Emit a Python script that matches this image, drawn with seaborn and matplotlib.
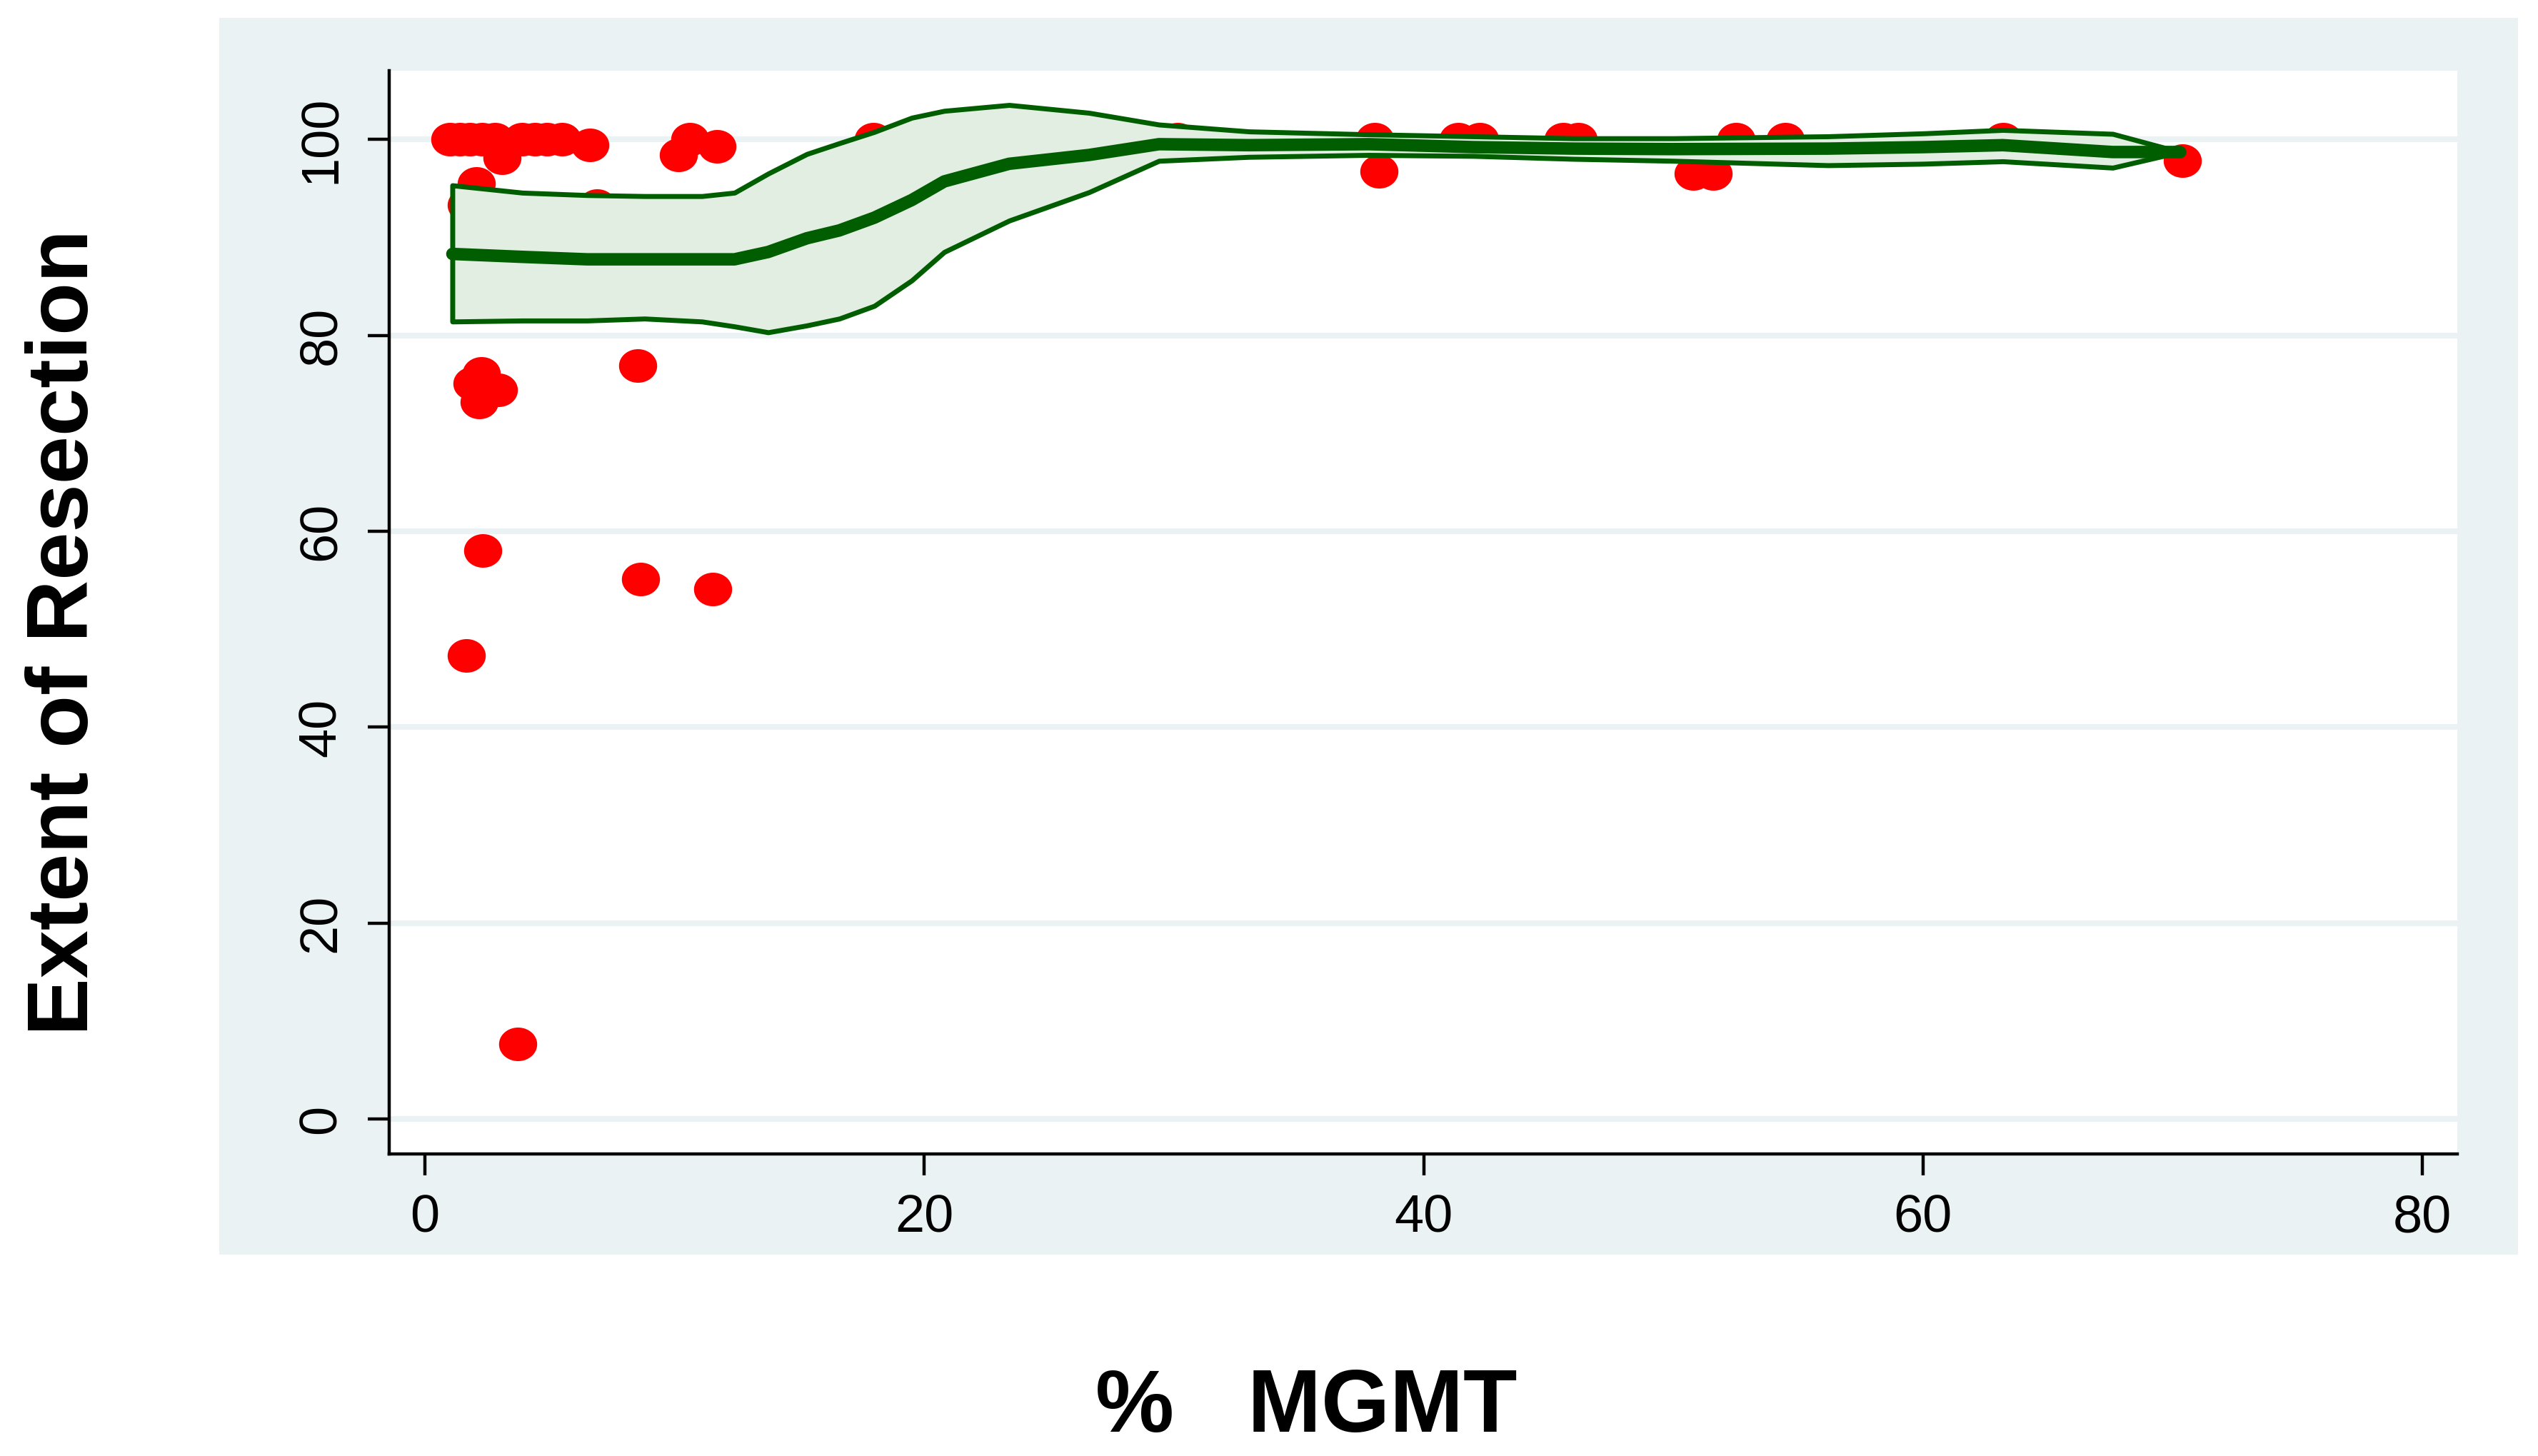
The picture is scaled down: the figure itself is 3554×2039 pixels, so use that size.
import numpy as np
import pandas as pd
import matplotlib
matplotlib.use("Agg")
import matplotlib.pyplot as plt
from matplotlib.patches import Rectangle
import seaborn as sns

# ---- data: scatter points (% MGMT, Extent of Resection) ----
mgmt = [1.0, 1.4, 1.8, 2.3, 2.8, 3.9, 4.4, 4.9, 5.5, 6.6,
        3.1, 2.06, 1.65, 6.9,
        10.15, 10.6, 11.7, 17.95,
        2.27, 1.89, 2.94, 2.16, 8.53,
        2.32, 8.63, 11.54, 1.65, 3.72,
        29.4, 30.15, 38.05, 38.2, 41.4, 42.25, 45.6, 46.2,
        50.8, 51.6, 52.5, 54.5, 63.2, 70.4]
eor = [100, 100, 100, 100, 100, 100, 100, 100, 100, 99.4,
       98.1, 95.5, 93.3, 93.2,
       98.4, 100, 99.3, 100,
       76.1, 75.1, 74.4, 73.2, 76.9,
       58.0, 55.1, 54.1, 47.3, 7.7,
       100, 100, 100, 96.7, 100, 100, 100, 100,
       96.5, 96.5, 100, 100, 100, 97.8]

# ---- data: local polynomial fit and confidence band ----
grid_x = [1.1, 3.9, 6.5, 8.8, 11.1, 12.4, 13.75, 15.3, 16.6, 18.0, 19.5, 20.8,
          23.4, 26.6, 29.4, 33.0, 37.8, 42.0, 46.0, 50.0, 56.2, 60.0, 63.2, 67.6, 70.3]
fit_mid = [88.3, 88.0, 87.75, 87.75, 87.75, 87.75, 88.5, 89.9, 90.7, 92.0, 93.8, 95.7,
           97.5, 98.4, 99.5, 99.4, 99.5, 99.2, 99.05, 99.0, 99.05, 99.2, 99.4, 98.7, 98.7]
ci_upper = [95.3, 94.55, 94.3, 94.2, 94.2, 94.55, 96.5, 98.5, 99.6, 100.75, 102.2, 102.9,
            103.5, 102.7, 101.5, 100.8, 100.5, 100.3, 100.1, 100.1, 100.3, 100.6, 100.95, 100.55, 98.7]
ci_lower = [81.4, 81.5, 81.5, 81.7, 81.4, 80.9, 80.3, 81.0, 81.7, 83.0, 85.6, 88.5,
            91.7, 94.6, 97.8, 98.2, 98.4, 98.3, 98.0, 97.8, 97.35, 97.5, 97.75, 97.1, 98.7]

x_ticks = [0, 20, 40, 60, 80]
y_ticks = [0, 20, 40, 60, 80, 100]
x_label = "%   MGMT"
y_label = "Extent of Resection"

RED = "#FF0000"
GREEN = "#005E00"
BAND = "#E3EEE3"
BG = "#EAF2F3"

sns.set_theme(style="white")
plt.rcParams["font.family"] = ["Liberation Sans", "DejaVu Sans"]

W, H, DPI = 3554, 2039, 200
fig = plt.figure(figsize=(W / DPI, H / DPI), dpi=DPI, facecolor="white")

# outer graph region (light blue-grey), drawn behind the axes
fig.patches.append(Rectangle((307 / W, 1 - 1757 / H), (3526 - 307) / W, (1757 - 25) / H,
                             transform=fig.transFigure, facecolor=BG, edgecolor="none",
                             zorder=-10))

ax = fig.add_axes([545 / W, 1 - 1616 / H, (3441 - 545) / W, (1616 - 99) / H])
ax.set_zorder(1)
ax.set_facecolor("white")

pts = pd.DataFrame({"mgmt": mgmt, "eor": eor})
fit = pd.DataFrame({"x": grid_x, "mid": fit_mid, "lo": ci_lower, "hi": ci_upper})

# elliptical marker (slightly wider than tall, as in the reference)
t = np.linspace(0, 2 * np.pi, 73)
ellipse = list(zip(np.cos(t), 0.88 * np.sin(t)))

sns.scatterplot(data=pts, x="mgmt", y="eor", ax=ax, color=RED, marker=ellipse,
                s=370, linewidth=0, zorder=3)

ax.fill_between(fit["x"], fit["lo"], fit["hi"], facecolor=BAND, edgecolor=GREEN,
                linewidth=2.5, zorder=4)
sns.lineplot(data=fit, x="x", y="mid", ax=ax, color=GREEN, linewidth=6.3,
             sort=False, estimator=None, solid_capstyle="round", zorder=5)

ax.set_xlim(-1.43, 81.4)
ax.set_ylim(-3.55, 107.0)
ax.set_xticks(x_ticks)
ax.set_yticks(y_ticks)
ax.set_xlabel("")
ax.set_ylabel("")

ax.yaxis.grid(True, color=BG, linewidth=2.9)
ax.xaxis.grid(False)
ax.set_axisbelow(True)

for s in ["top", "right"]:
    ax.spines[s].set_visible(False)
for s in ["left", "bottom"]:
    ax.spines[s].set_color("black")
    ax.spines[s].set_linewidth(1.6)

ax.tick_params(axis="both", which="major", direction="out", length=10.8, width=1.6,
               color="black", labelsize=26.6, labelcolor="black",
               bottom=True, left=True)
ax.tick_params(axis="x", pad=9.0)
ax.tick_params(axis="y", pad=11.0)
for lab in ax.get_yticklabels():
    lab.set_rotation(90)
    lab.set_va("center")

fig.text(123 / W, 1 - 886 / H, y_label, rotation=90, rotation_mode="anchor",
         ha="center", va="baseline", fontsize=43.5, fontweight="bold", color="black")
fig.text(1829 / W, 1 - 2005 / H, x_label, ha="center", va="baseline",
         fontsize=44.5, fontweight="bold", color="black")

fig.savefig("out.png", dpi=DPI, facecolor="white")
